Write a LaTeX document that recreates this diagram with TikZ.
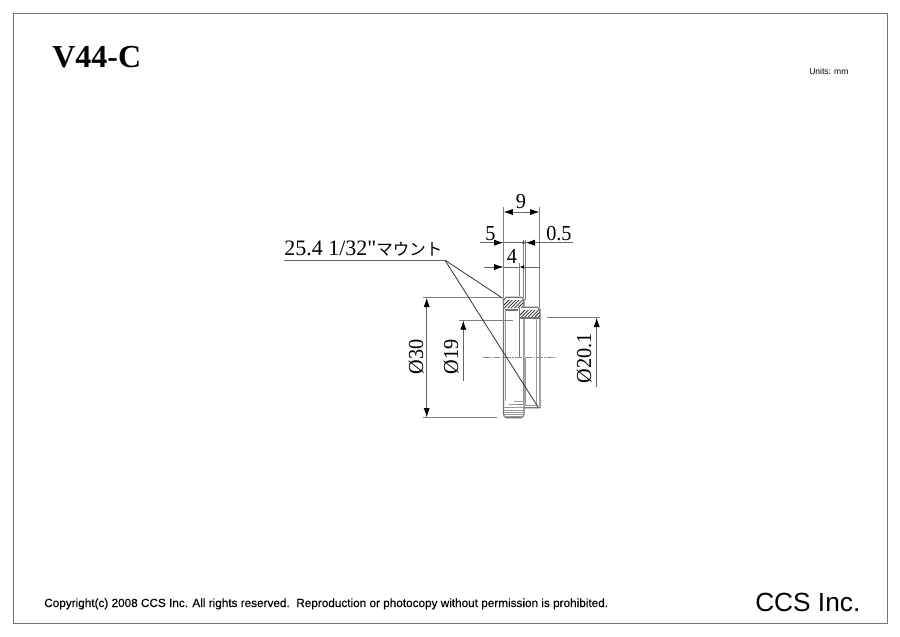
\documentclass[tikz,border=0pt]{standalone}
\usepackage{fontspec}
\setmainfont{Liberation Serif}
\newfontfamily\dimfont[FakeStretch=0.95]{Liberation Serif}
\newfontfamily\labelfont{Liberation Serif}
\newfontfamily\arialfont{Liberation Sans}
\newfontfamily\copyfont[FakeBold=0.25]{Liberation Sans}
\newfontfamily\jpfont{Noto Sans CJK JP}
\usetikzlibrary{arrows.meta}
\tikzset{
  ext/.style={draw=black!50,line width=0.8pt},
  dim/.style={draw=black!60,line width=0.65pt},
  dimtip/.style={-{Latex[length=7pt,width=4.6pt,black]}},
  smalltip/.style={-{Latex[length=3.5pt,width=3pt,black]}},
  part/.style={draw=black!55,line width=0.85pt},
  thinpart/.style={draw=black!40,line width=0.7pt},
  leader/.style={draw=black!80,line width=0.6pt},
  hatchline/.style={draw=black!85,line width=0.55pt},
  dimtext/.style={inner sep=0pt,anchor=base west,font=\dimfont\fontsize{16}{17}\selectfont},
  dimrot/.style={inner sep=0pt,anchor=base,rotate=90,font=\dimfont\fontsize{16}{17}\selectfont},
  center/.style={draw=black!45,line width=0.6pt,dash pattern=on 5pt off 1pt on 1pt off 1pt}
}
\begin{document}
\begin{tikzpicture}[x=0.75pt,y=-0.75pt]
\useasboundingbox (0,0) rectangle (900,636);
\fill[white] (0,0) rectangle (900,636);
\draw[black!55,line width=0.6pt] (13,13) rectangle (887,623);

% title block
\node[inner sep=0pt,anchor=base west,font=\fontsize{24}{24}\selectfont\bfseries] (title) at (52,67) {V44-C};
\node[inner sep=0pt,anchor=base west,font=\arialfont\fontsize{6.4}{7}\selectfont] (units) at (809,74) {Units: mm};
\node[inner sep=0pt,anchor=base west,font=\copyfont\fontsize{8.82}{10}\selectfont] (copy) at (44,607) {Copyright(c) 2008 CCS Inc. All rights reserved.\ \ Reproduction or photocopy without permission is prohibited.};
\node[inner sep=0pt,anchor=base west,font=\arialfont\fontsize{19.7}{20}\selectfont] (ccs) at (755,611) {CCS Inc.};

% part hatching
\begin{scope}
\clip (503.5,308) -- (503.5,304) -- (507,300) -- (524,300) -- (524,308) -- cycle;
\foreach \i in {0,3.4,...,50} \draw[hatchline] (497+\i,312) -- (497+\i+16,296);
\end{scope}
\begin{scope}
\clip (519.5,318) -- (519.5,314) -- (523,310) -- (540,310) -- (540,318) -- cycle;
\foreach \i in {0,3.4,...,50} \draw[hatchline] (513+\i,322) -- (513+\i+16,306);
\end{scope}

% part outline
\draw[part] (503.5,414) -- (503.5,300) to[out=-90,in=180] (506.5,297.3) -- (521,297.3) to[out=0,in=-90] (524,300) -- (524,307.3) -- (537,307.3) to[out=0,in=-90] (540,310) -- (540,407.7) -- (524,407.7);
\draw[part] (503.5,414) .. controls (503.5,416.5) and (505,417.7) .. (507,417.7) -- (520.5,417.7) .. controls (522.5,417.7) and (524,416.5) .. (524,414) -- (524,318);
\draw[part] (519.4,308) -- (519.4,357.5);
\draw[part] (505.3,310) -- (518,310);
\draw[part] (519.4,318) -- (540,318);
\draw[thinpart] (505.4,310) -- (505.4,401);
\draw[thinpart] (536.6,318) -- (536.6,405);
\draw[thinpart] (523.3,358) -- (523.3,402);
\draw[thinpart] (525.6,358) -- (525.6,405) -- (538,405);
% knurl lines
\draw[thinpart] (514,401.7) -- (524,401.7);
\draw[thinpart] (509,404.3) -- (524,404.3);
\foreach \yy in {407.7,410,412.3,414.3,416} \draw[thinpart] (503.8,\yy) -- (523.8,\yy);

% centre line
\draw[center] (483,357.7) -- (557,357.7);

% extension lines
\coordinate (ea) at (503.5,207); \coordinate (eaa) at (503.5,298);
\coordinate (eb) at (539.5,207); \coordinate (ebb) at (539.5,308);
\coordinate (ec) at (523.5,240); \coordinate (ecc) at (523.5,298);
\coordinate (ed) at (525.6,240); \coordinate (edd) at (525.6,300);
\coordinate (ee) at (519.4,263); \coordinate (eee) at (519.4,296);
\draw[ext] (ea) -- (eaa);
\draw[ext] (eb) -- (ebb);
\draw[ext] (ec) -- (ecc);
\draw[ext] (ed) -- (edd);
\draw[ext] (ee) -- (eee);
\coordinate (p30a) at (423,297.7); \coordinate (p30b) at (502,297.7);
\coordinate (q30a) at (423,417.4); \coordinate (q30b) at (497,417.4);
\draw[ext] (p30a) -- (p30b);
\draw[ext] (q30a) -- (q30b);
\coordinate (p19a) at (459,320.4); \coordinate (p19b) at (513,320.4);
\draw[ext] (p19a) -- (p19b);
\coordinate (p20a) at (547,317.7); \coordinate (p20b) at (600,317.7);
\draw[ext] (p20a) -- (p20b);

% dimensions
\coordinate (d9a) at (503.5,212); \coordinate (d9b) at (539.5,212);
\draw[dim,{Latex[length=7pt,width=4.6pt,black]}-{Latex[length=7pt,width=4.6pt,black]}] (d9a) -- (d9b);
\node[dimtext] (t9) at (515.5,208) {9};

\coordinate (d5o) at (480,242.7); \coordinate (d5a) at (503.5,242.7); \coordinate (d5b) at (523.5,242.7);
\draw[dim,dimtip] (d5o) -- (d5a);
\draw[dim] (d5a) -- (d5b);
\fill[black!70] (d5b) circle (1.6);
\coordinate (d05o) at (573,242.7); \coordinate (d05a) at (525.6,242.7);
\draw[dim,dimtip] (d05o) -- (d05a);
\node[dimtext] (t5) at (485,240) {5};
\node[dimtext] (t05) at (546,240) {0.5};

\coordinate (d4o) at (484,267); \coordinate (d4a) at (503.5,267);
\coordinate (d4p) at (539.5,267); \coordinate (d4b) at (519.4,267);
\draw[dim,dimtip] (d4o) -- (d4a);
\draw[dim] (d4a) -- (d4b);
\draw[dim,smalltip] (d4p) -- (d4b);
\node[dimtext] (t4) at (506.5,263) {4};

\coordinate (d30a) at (426.7,297.7); \coordinate (d30b) at (426.7,417.4);
\draw[dim,{Latex[length=7pt,width=4.6pt,black]}-{Latex[length=7pt,width=4.6pt,black]}] (d30a) -- (d30b);
\node[dimrot] (t30) at (423,357) {\O30};

\coordinate (d19a) at (463.3,320.4); \coordinate (d19b) at (463.3,380.7);
\draw[dim,dimtip] (d19b) -- (d19a);
\node[dimrot] (t19) at (458,357) {\O19};

\coordinate (d20a) at (596.7,317.7); \coordinate (d20b) at (596.7,387);
\draw[dim,dimtip] (d20b) -- (d20a);
\node[dimrot] (t20) at (591,358) {\O20.1};

% leader
\node[inner sep=0pt,anchor=base west] (lab) at (284,255.7) {\labelfont\fontsize{16.5}{17}\selectfont 25.4 1/32"\jpfont\fontsize{12.4}{13}\selectfont マウント};
\coordinate (la) at (284,260.2); \coordinate (lb) at (445,260.2);
\coordinate (lc) at (503,298.5); \coordinate (ld) at (538,407);
\draw[black!60,line width=0.8pt] (la) -- (lb);
\draw[leader] (lb) -- (lc);
\draw[leader] (lb) -- (ld);
\end{tikzpicture}
\end{document}
